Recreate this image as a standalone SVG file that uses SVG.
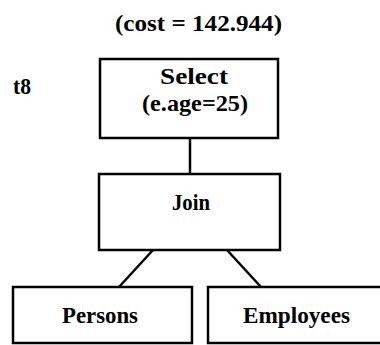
<svg xmlns="http://www.w3.org/2000/svg" width="380" height="345" viewBox="0 0 380 345">
  <style>
    .box { fill: #fff; stroke: #000; stroke-width: 2.5; }
    .edge { stroke: #000; stroke-width: 2.5; fill: none; }
    text { font-family: "Liberation Serif", "Times New Roman", serif; font-weight: bold; font-size: 24px; fill: #000; }
  </style>
  <rect width="380" height="345" fill="#fff"/>
  <text x="115" y="31" textLength="167" lengthAdjust="spacingAndGlyphs">(cost = 142.944)</text>
  <text x="13" y="94" textLength="18" lengthAdjust="spacingAndGlyphs">t8</text>
  <g id="connectors">
    <line class="edge" x1="190" y1="138" x2="190" y2="174"/>
    <line class="edge" x1="153" y1="250" x2="119" y2="287"/>
    <line class="edge" x1="227" y1="250" x2="261" y2="287"/>
  </g>
  <g id="select">
    <rect class="box" x="100" y="59" width="178" height="79"/>
    <text x="160" y="84" textLength="68" lengthAdjust="spacingAndGlyphs">Select</text>
    <text x="142" y="111" textLength="106" lengthAdjust="spacingAndGlyphs">(e.age=25)</text>
  </g>
  <g id="join">
    <rect class="box" x="99" y="174" width="181" height="76"/>
    <text x="172" y="210" textLength="38" lengthAdjust="spacingAndGlyphs">Join</text>
  </g>
  <g id="persons">
    <rect class="box" x="13" y="287" width="179" height="56"/>
    <text x="62" y="323" textLength="76" lengthAdjust="spacingAndGlyphs">Persons</text>
  </g>
  <g id="employees">
    <rect class="box" x="208" y="287" width="180" height="56"/>
    <text x="243" y="323" textLength="107" lengthAdjust="spacingAndGlyphs">Employees</text>
  </g>
</svg>
